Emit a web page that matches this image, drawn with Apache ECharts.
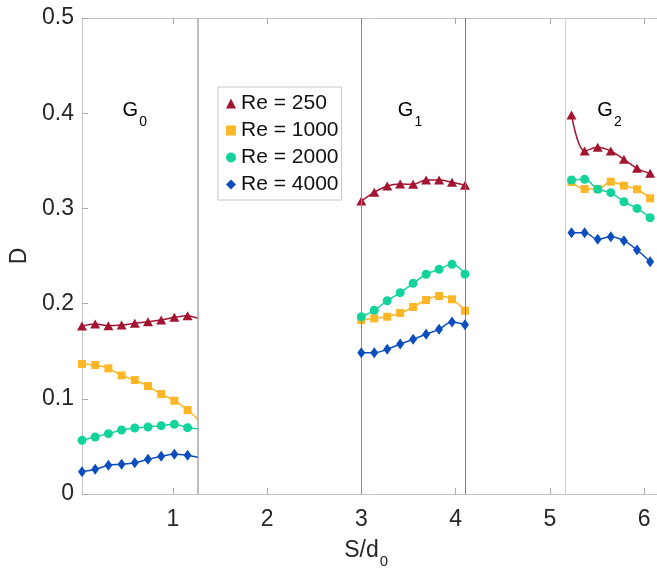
<!DOCTYPE html>
<html>
<head>
<meta charset="utf-8">
<style>
  html, body { margin: 0; padding: 0; background: #fff; }
  #chart { width: 657px; height: 570px; }
</style>
<script src="https://cdn.jsdelivr.net/npm/echarts@6/dist/echarts.min.js"></script>
</head>
<body>
<div id="chart"></div>
<script>
// Positions S/d0 of the sampled points in each gap region
const xG0 = [0.037, 0.177, 0.317, 0.457, 0.597, 0.737, 0.877, 1.017, 1.157, 1.265];
const xG1 = [3.0, 3.1375, 3.275, 3.4125, 3.55, 3.6875, 3.825, 3.9625, 4.1];
const xG2 = [5.23, 5.369, 5.508, 5.647, 5.786, 5.925, 6.064];

// Region boundaries (vertical lines)
const boundaries = [1.265, 3.0, 4.1, 5.16];

// Series names
const seriesNames = ['Re = 250', 'Re = 1000', 'Re = 2000', 'Re = 4000'];

// D values, region G0 (last value closes the curve at the boundary)
const re250G0  = [0.1765, 0.1786, 0.1768, 0.1775, 0.1793, 0.1810, 0.1828, 0.1856, 0.1873, 0.1845];
const re1000G0 = [0.1366, 0.1355, 0.1320, 0.1246, 0.1197, 0.1134, 0.1050, 0.0980, 0.0882, 0.0784];
const re2000G0 = [0.0564, 0.0599, 0.0634, 0.0672, 0.0693, 0.0704, 0.0718, 0.0732, 0.0697, 0.0686];
const re4000G0 = [0.0234, 0.0259, 0.0301, 0.0312, 0.0329, 0.0364, 0.0396, 0.0417, 0.0406, 0.0385];

// D values, region G1
const re250G1  = [0.3078, 0.3169, 0.3235, 0.3256, 0.3253, 0.3298, 0.3298, 0.3274, 0.3242];
const re1000G1 = [0.1828, 0.1845, 0.1862, 0.1901, 0.1964, 0.2038, 0.2080, 0.2045, 0.1925];
const re2000G1 = [0.1862, 0.1930, 0.2030, 0.2115, 0.2213, 0.2308, 0.2360, 0.2413, 0.2311];
const re4000G1 = [0.1484, 0.1484, 0.1520, 0.1576, 0.1625, 0.1678, 0.1730, 0.1807, 0.1778];

// D values, region G2
const re250G2  = [0.3981, 0.3603, 0.3642, 0.3603, 0.3515, 0.3421, 0.3368];
const re1000G2 = [0.3277, 0.3204, 0.3204, 0.3280, 0.3239, 0.3201, 0.3106];
const re2000G2 = [0.3298, 0.3305, 0.3201, 0.3165, 0.3070, 0.3000, 0.2902];
const re4000G2 = [0.2745, 0.2745, 0.2675, 0.2703, 0.2661, 0.2563, 0.2440];

// X tick labels
const xTicks = [1, 2, 3, 4, 5, 6];

// Region labels: name, subscript, anchor [S/d0, D]
const regionLabels = [
  ['G', '0', [0.55, 0.403]],
  ['G', '1', [3.47, 0.403]],
  ['G', '2', [5.585, 0.403]]
];

const colors = ['#A2142F', '#FDB626', '#13D39C', '#0B4DBE'];
const symbols = ['triangle', 'rect', 'circle', 'diamond'];
const symbolSizes = [[10, 9], [8, 8], [9, 9], [8, 11]];
const FONT = '"Liberation Sans", Arial, Helvetica, sans-serif';

const groups = [
  { x: xG0, ys: [re250G0, re1000G0, re2000G0, re4000G0], openEnd: true },
  { x: xG1, ys: [re250G1, re1000G1, re2000G1, re4000G1], openEnd: false },
  { x: xG2, ys: [re250G2, re1000G2, re2000G2, re4000G2], openEnd: false }
];

const series = [];
seriesNames.forEach((name, k) => {
  groups.forEach((g, gi) => {
    const data = g.x.map((x, i) => {
      const item = { value: [x, g.ys[k][i]] };
      if (g.openEnd && i === g.x.length - 1) item.symbol = 'none';
      return item;
    });
    const s = {
      name: name,
      type: 'line',
      xAxisIndex: 0,
      yAxisIndex: 0,
      data: data,
      smooth: 0.35,
      symbol: symbols[k],
      symbolSize: symbolSizes[k],
      showAllSymbol: true,
      color: colors[k],
      lineStyle: { color: colors[k], width: 1.5 },
      itemStyle: { color: colors[k] },
      emphasis: { disabled: true },
      animation: false,
      z: 3 + k
    };
    if (k === 0 && gi === 0) {
      s.markLine = {
        silent: true,
        symbol: 'none',
        label: { show: false },
        animation: false,
        data: boundaries.map((b, i) => ({
          xAxis: b,
          lineStyle: {
            type: 'solid',
            width: i === 0 ? 1.5 : 1,
            color: ['#a6a6a6', '#8c8c8c', '#7a7a7a', '#d2d2d2'][i]
          }
        }))
      };
    }
    series.push(s);
  });
});

const axisLineColor = '#c4c4c4';
const tickColor = '#a8a8a8';

const chart = echarts.init(document.getElementById('chart'), null, { renderer: 'canvas' });
chart.setOption({
  animation: false,
  backgroundColor: '#ffffff',
  textStyle: { fontFamily: FONT },
  grid: { left: 81, top: 18, width: 581, height: 476, containLabel: false },
  legend: {
    orient: 'vertical',
    left: 218,
    top: 87,
    padding: [6, 3, 5, 8],
    itemGap: 6,
    itemWidth: 10,
    itemHeight: 10,
    borderColor: '#c8c8c8',
    borderWidth: 1,
    backgroundColor: '#ffffff',
    selectedMode: false,
    textStyle: { fontSize: 21, color: '#111', fontFamily: FONT },
    data: seriesNames.map((n, k) => ({ name: n, icon: symbols[k] }))
  },
  xAxis: [
    {
      type: 'value',
      position: 'bottom',
      min: 0.037,
      max: 6.137,
      name: '',
      axisLine: { show: true, lineStyle: { color: axisLineColor, width: 1 } },
      axisTick: { show: true, inside: true, length: 6, customValues: xTicks, lineStyle: { color: tickColor } },
      axisLabel: { show: true, customValues: xTicks, fontSize: 23, color: '#262626', margin: 14, fontFamily: FONT },
      splitLine: { show: false }
    },
    {
      type: 'value',
      position: 'top',
      min: 0.037,
      max: 6.137,
      axisLine: { show: true, lineStyle: { color: axisLineColor, width: 1 } },
      axisTick: { show: true, inside: true, length: 6, customValues: xTicks, lineStyle: { color: tickColor } },
      axisLabel: { show: false },
      splitLine: { show: false }
    }
  ],
  yAxis: [
    {
      type: 'value',
      min: 0,
      max: 0.5,
      interval: 0.1,
      name: 'D',
      nameLocation: 'middle',
      nameGap: 51,
      nameRotate: 90,
      nameTextStyle: { fontSize: 23, color: '#262626', fontFamily: FONT },
      axisLine: { show: true, lineStyle: { color: axisLineColor, width: 1 } },
      axisTick: { show: true, inside: true, length: 6, lineStyle: { color: tickColor } },
      axisLabel: { fontSize: 23, color: '#262626', margin: 8, fontFamily: FONT },
      splitLine: { show: false }
    }
  ],
  series: series
});

// Axis title with subscript and region labels, placed from data coordinates
function drawTexts() {
  const elements = [];
  regionLabels.forEach(([main, sub, at]) => {
    const p = chart.convertToPixel({ xAxisIndex: 0, yAxisIndex: 0 }, at);
    elements.push({
      type: 'text', x: p[0], y: p[1],
      style: { text: main, font: '20px ' + FONT, fill: '#000', align: 'center', verticalAlign: 'middle' }
    });
    elements.push({
      type: 'text', x: p[0] + 9, y: p[1] + 12,
      style: { text: sub, font: '14px ' + FONT, fill: '#000', align: 'left', verticalAlign: 'middle' }
    });
  });
  const mid = chart.convertToPixel({ xAxisIndex: 0, yAxisIndex: 0 }, [3.1, 0]);
  elements.push({
    type: 'text', x: mid[0] + 8, y: 551,
    style: { text: 'S/d', font: '23px ' + FONT, fill: '#262626', align: 'right', verticalAlign: 'middle' }
  });
  elements.push({
    type: 'text', x: mid[0] + 9, y: 562,
    style: { text: '0', font: '15px ' + FONT, fill: '#262626', align: 'left', verticalAlign: 'middle' }
  });
  chart.setOption({ graphic: { elements: elements } });
}
drawTexts();
</script>
</body>
</html>
